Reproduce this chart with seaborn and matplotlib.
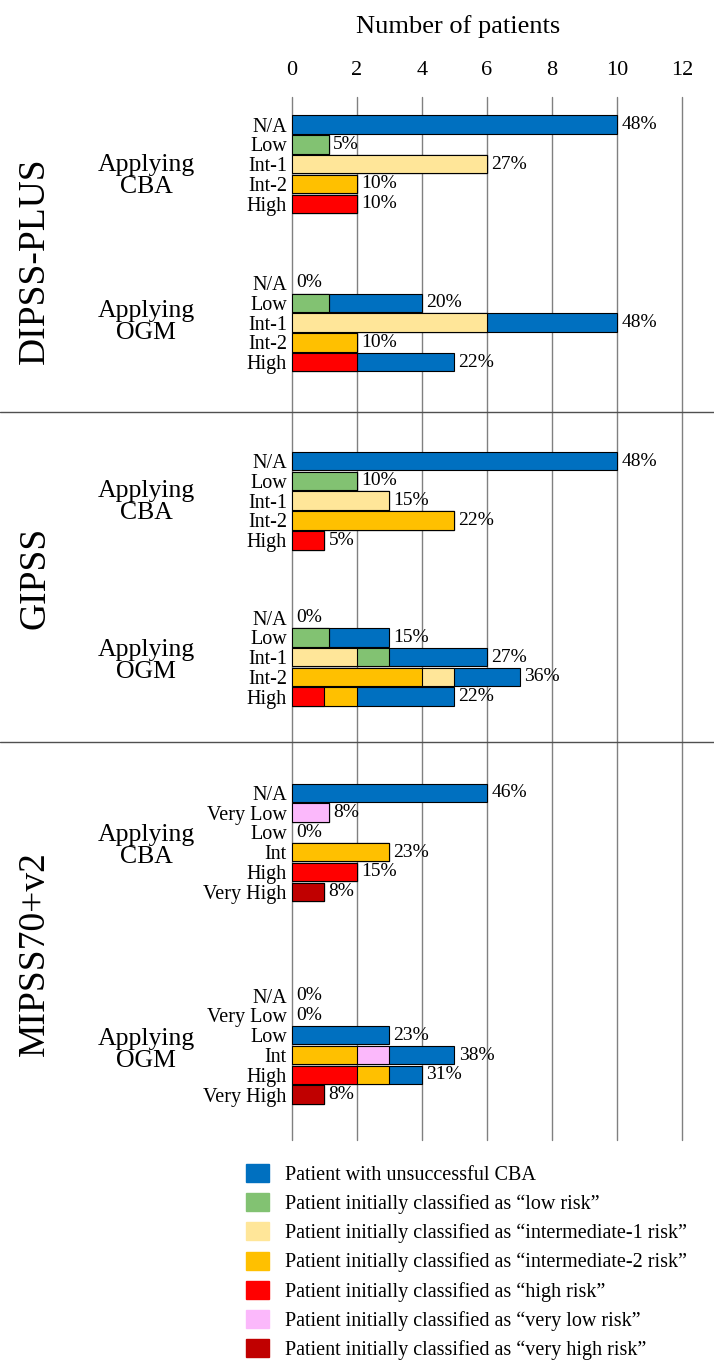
import numpy as np
import pandas as pd
import matplotlib.pyplot as plt
import seaborn as sns
from matplotlib.patches import Patch
from matplotlib.lines import Line2D

# 颜色
blue = '#0070C0'
green = '#82C272'
lyellow = '#FFE699'
orange = '#FFC000'
red = '#FF0000'
pink = '#FBB8FB'
darkred = '#C00000'

risk_color = {'N/A': blue, 'Very Low': pink, 'Low': green, 'Int-1': lyellow,
              'Int-2': orange, 'Int': orange, 'High': red, 'Very High': darkred}

# DIPSS-PLUS
dipss_labels = ['N/A', 'Low', 'Int-1', 'Int-2', 'High']
dipss_cba_own = [0, 1.15, 6, 2, 2]
dipss_cba_unsucc = [10, 0, 0, 0, 0]
dipss_cba_pct = ['48%', '5%', '27%', '10%', '10%']
dipss_ogm_own = [0, 1.15, 6, 2, 2]
dipss_ogm_other = [0, 0, 0, 0, 0]
dipss_ogm_other_risk = [None, None, None, None, None]
dipss_ogm_unsucc = [0, 2.85, 4, 0, 3]
dipss_ogm_pct = ['0%', '20%', '48%', '10%', '22%']

# GIPSS
gipss_labels = ['N/A', 'Low', 'Int-1', 'Int-2', 'High']
gipss_cba_own = [0, 2, 3, 5, 1]
gipss_cba_unsucc = [10, 0, 0, 0, 0]
gipss_cba_pct = ['48%', '10%', '15%', '22%', '5%']
gipss_ogm_own = [0, 1.15, 2, 4, 1]
gipss_ogm_other = [0, 0, 1, 1, 1]
gipss_ogm_other_risk = [None, None, 'Low', 'Int-1', 'Int-2']
gipss_ogm_unsucc = [0, 1.85, 3, 2, 3]
gipss_ogm_pct = ['0%', '15%', '27%', '36%', '22%']

# MIPSS70+v2
mipss_labels = ['N/A', 'Very Low', 'Low', 'Int', 'High', 'Very High']
mipss_cba_own = [0, 1.15, 0, 3, 2, 1]
mipss_cba_unsucc = [6, 0, 0, 0, 0, 0]
mipss_cba_pct = ['46%', '8%', '0%', '23%', '15%', '8%']
mipss_ogm_own = [0, 0, 0, 2, 2, 1]
mipss_ogm_other = [0, 0, 0, 1, 1, 0]
mipss_ogm_other_risk = [None, None, None, 'Very Low', 'Int', None]
mipss_ogm_unsucc = [0, 0, 3, 2, 1, 0]
mipss_ogm_pct = ['0%', '0%', '23%', '38%', '31%', '8%']

legend_colors = [blue, green, lyellow, orange, red, pink, darkred]
legend_labels = ['Patient with unsuccessful CBA',
                 'Patient initially classified as \u201clow risk\u201d',
                 'Patient initially classified as \u201cintermediate-1 risk\u201d',
                 'Patient initially classified as \u201cintermediate-2 risk\u201d',
                 'Patient initially classified as \u201chigh risk\u201d',
                 'Patient initially classified as \u201cvery low risk\u201d',
                 'Patient initially classified as \u201cvery high risk\u201d']

# 每个区块的起始行位置
blocks = [
    (dipss_labels, dipss_cba_own, [0] * 5, [None] * 5, dipss_cba_unsucc, dipss_cba_pct, 0),
    (dipss_labels, dipss_ogm_own, dipss_ogm_other, dipss_ogm_other_risk, dipss_ogm_unsucc, dipss_ogm_pct, 8),
    (gipss_labels, gipss_cba_own, [0] * 5, [None] * 5, gipss_cba_unsucc, gipss_cba_pct, 17),
    (gipss_labels, gipss_ogm_own, gipss_ogm_other, gipss_ogm_other_risk, gipss_ogm_unsucc, gipss_ogm_pct, 24.9),
    (mipss_labels, mipss_cba_own, [0] * 6, [None] * 6, mipss_cba_unsucc, mipss_cba_pct, 33.75),
    (mipss_labels, mipss_ogm_own, mipss_ogm_other, mipss_ogm_other_risk, mipss_ogm_unsucc, mipss_ogm_pct, 44),
]

rows = []
for labels, own, other, other_risk, unsucc, pct, start in blocks:
    for i, lab in enumerate(labels):
        rows.append(dict(pos=start + i, label=lab, own=own[i], other=other[i],
                         unsucc=unsucc[i], pct=pct[i], own_color=risk_color[lab],
                         other_color=risk_color.get(other_risk[i], blue)))
df = pd.DataFrame(rows).sort_values('pos').reset_index(drop=True)
df['mid'] = df['own'] + df['other']
df['total'] = df['mid'] + df['unsucc']

sns.set_style('white')
plt.rcParams['font.family'] = ['Liberation Serif', 'DejaVu Serif']
plt.rcParams['text.color'] = 'black'
plt.rcParams['xtick.color'] = 'black'
plt.rcParams['ytick.color'] = 'black'

W, H = 714, 1370
fig = plt.figure(figsize=(W / 100, H / 100), dpi=100)
ax = fig.add_axes([291.7 / W, 1 - 1140 / H, (682.3 - 291.7) / W, 1043 / H])

bar_kw = dict(orient='y', native_scale=True, saturation=1, width=0.93, errorbar=None,
              edgecolor='black', linewidth=0.8, ax=ax)

# 叠加画法：总长 -> 前两段 -> 第一段
sns.barplot(data=df, x='total', y='pos', color=blue, **bar_kw)
ax.bar_label(ax.containers[0], labels=df['pct'].tolist(), padding=3, fontsize=14)
sns.barplot(data=df, x='mid', y='pos', hue='other_color',
            palette={c: c for c in df['other_color'].unique()}, dodge=False, legend=False, **bar_kw)
sns.barplot(data=df, x='own', y='pos', hue='own_color',
            palette={c: c for c in df['own_color'].unique()}, dodge=False, legend=False, **bar_kw)

for p in ax.patches:
    if p.get_width() == 0:
        p.set_visible(False)

ax.set_xlim(0, 12)
ax.set_ylim(51.29, -1.39)
ax.set_xticks(range(0, 13, 2))
ax.set_yticks(df['pos'], df['label'])
ax.xaxis.tick_top()
ax.tick_params(axis='x', length=0, pad=12, labelsize=16)
ax.tick_params(axis='y', length=0, pad=3.5, labelsize=14.5)
ax.set_xlabel(None)
ax.set_ylabel(None)
ax.grid(visible=True, axis='x', color='#808080', linewidth=1)
ax.grid(visible=False, axis='y')
ax.set_axisbelow(True)
for gl in ax.get_xgridlines():
    gl.set_clip_on(False)
for s in ax.spines.values():
    s.set_visible(False)

fig.text(458.5 / W, 1 - 33 / H, 'Number of patients', ha='center', va='baseline', fontsize=19)

# 左侧分组标题
for name, yc in [('DIPSS-PLUS', 261), ('GIPSS', 578), ('MIPSS70+v2', 954)]:
    fig.text(35 / W, 1 - yc / H, name, rotation=90, ha='center', va='center', fontsize=27)
for txt, yc in [('Applying\nCBA', 176), ('Applying\nOGM', 322), ('Applying\nCBA', 502),
                ('Applying\nOGM', 661), ('Applying\nCBA', 846), ('Applying\nOGM', 1050)]:
    fig.text(146 / W, 1 - yc / H, txt, ha='center', va='center', fontsize=18.5, linespacing=1.05)

for yl in [412, 742]:
    fig.add_artist(Line2D([0, 1], [1 - yl / H] * 2, transform=fig.transFigure, color='#505050', linewidth=1))

handles = [Patch(facecolor=c, edgecolor=c) for c in legend_colors]
fig.legend(handles, legend_labels, loc='upper left', bbox_to_anchor=(246 / W, 1 - 1164 / H),
           frameon=False, fontsize=14.5, handlelength=1.15, handleheight=1.0, handletextpad=0.8,
           labelspacing=0.41, borderpad=0, borderaxespad=0)

fig.savefig('out.png', dpi=100)
